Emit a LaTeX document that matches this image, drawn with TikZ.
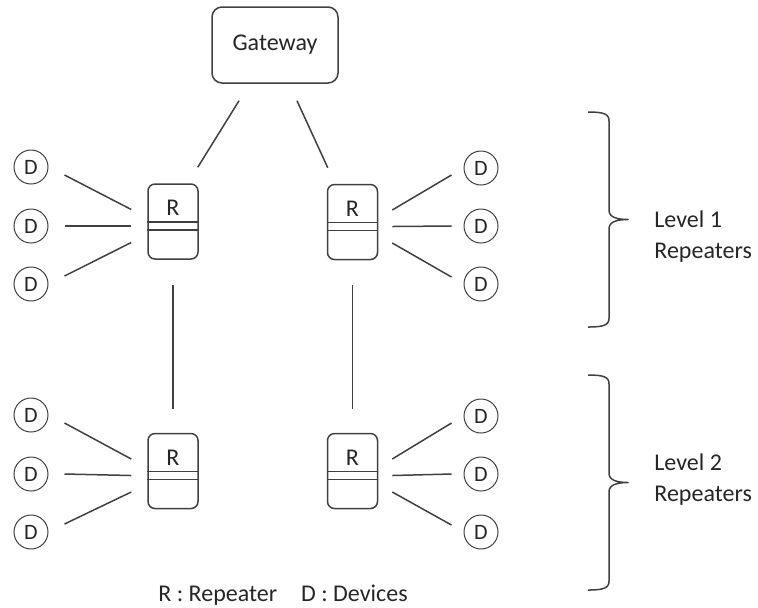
\documentclass[tikz,border=0pt]{standalone}
\usepackage{fontspec}
\setmainfont{Carlito}
\usetikzlibrary{positioning,calc}
\definecolor{linegray}{HTML}{404040}
\definecolor{textgray}{HTML}{262626}

\begin{document}
\begin{tikzpicture}[x=0.5pt,y=-0.5pt,
    every node/.style={text=textgray},
    gwbox/.style={draw=linegray,line width=0.75pt,rounded corners=5pt,minimum width=63pt,minimum height=38pt,font=\fontsize{12}{14.4}\selectfont},
    rptbox/.style={draw=linegray,line width=0.75pt,rounded corners=3.5pt,minimum width=25pt,minimum height=37.5pt},
    devnode/.style={draw=linegray,circle,line width=0.5pt,minimum size=17pt,inner sep=0pt,font=\fontsize{11}{13}\selectfont},
    link/.style={draw=linegray,line width=0.75pt},
    lvlbrace/.style={draw=linegray,line width=0.75pt,line join=round},
    lvltext/.style={align=left,anchor=west,inner sep=0pt,font=\fontsize{12}{15.5}\selectfont}]
    \useasboundingbox (0,0) rectangle (758,607);
    % Gateway
    \node[gwbox] (gw) at (275,45) {Gateway};
    % Repeaters
    \node[rptbox] (r1) at (173,221.5) {};
    \node[rptbox] (r2) at (352.5,222) {};
    \node[rptbox] (r3) at (173,471) {};
    \node[rptbox] (r4) at (352.5,471) {};
    \foreach \r in {r1,r2,r3,r4} {
      \node[font=\fontsize{12}{14.4}\selectfont] (\r-lbl) at ($(\r.center)+(0,-13.5)$) {R};
      \draw[link] ($(\r.west)+(0,0.5)$) -- ($(\r.east)+(0,0.5)$);
      \draw[link] ($(\r.west)+(0,8.5)$) -- ($(\r.east)+(0,8.5)$);
    }
    % Devices
    \foreach \n/\x/\y in {dl1/31/167, dl2/31/226, dl3/31/284, dl4/31/415, dl5/31/474, dl6/31/532,
                          dr1/481/168, dr2/481/226, dr3/481/284, dr4/481/416, dr5/481/474, dr6/481/532}
      \node[devnode] (\n) at (\x,\y) {D};
    % Links
    \draw[link] ($(gw.south)+(-36,17)$) -- ($(r1.north east)+(-1,-16)$);
    \draw[link] ($(gw.south)+(22,17)$) -- ($(r2.north west)+(1,-16)$);
    \draw[link,shorten <=12.5pt,shorten >=12pt] (r1.south) -- (r3.north);
    \draw[link,shorten <=12.5pt,shorten >=12pt] (r2.south) -- (r4.north);
    \foreach \r/\a/\b/\c in {r1/dl1/dl2/dl3, r3/dl4/dl5/dl6} {
      \draw[link] ($(\a.east)+(16,8)$) -- ($(\r.west)+(-16,-12)$);
      \draw[link] ($(\b.east)+(16,0)$) -- ($(\r.west)+(-16,4.5)$);
      \draw[link] ($(\c.east)+(16,-8)$) -- ($(\r.west)+(-16,21)$);
    }
    \foreach \r/\a/\b/\c in {r2/dr1/dr2/dr3, r4/dr4/dr5/dr6} {
      \draw[link] ($(\r.east)+(14,-12)$) -- ($(\a.west)+(-12,7)$);
      \draw[link] ($(\r.east)+(14,4.5)$) -- ($(\b.west)+(-12,0)$);
      \draw[link] ($(\r.east)+(14,21)$) -- ($(\c.west)+(-12,-7)$);
    }
    % Level braces
    \coordinate (b1top) at (588,112);
    \coordinate (b2top) at (588,375);
    \foreach \b in {b1,b2}
      \draw[lvlbrace] (\b top) .. controls +(16,0) and +(0,-7) .. ++(21,9)
        -- ++(0,89.5) .. controls +(0,7) and +(-10,0) .. ++(19,9)
        .. controls +(-10,0) and +(0,-7) .. ++(-19,9)
        -- ++(0,89.5) .. controls +(0,7) and +(16,0) .. ++(-21,9);
    \node[lvltext] (lvl1) at (654,237) {Level 1\\Repeaters};
    \node[lvltext] (lvl2) at (654,480) {Level 2\\Repeaters};
    % Legend
    \node[font=\fontsize{12}{14.4}\selectfont,anchor=base] (legend) at (283,601) {R : Repeater\hspace{1em}D : Devices};
\end{tikzpicture}
\end{document}
